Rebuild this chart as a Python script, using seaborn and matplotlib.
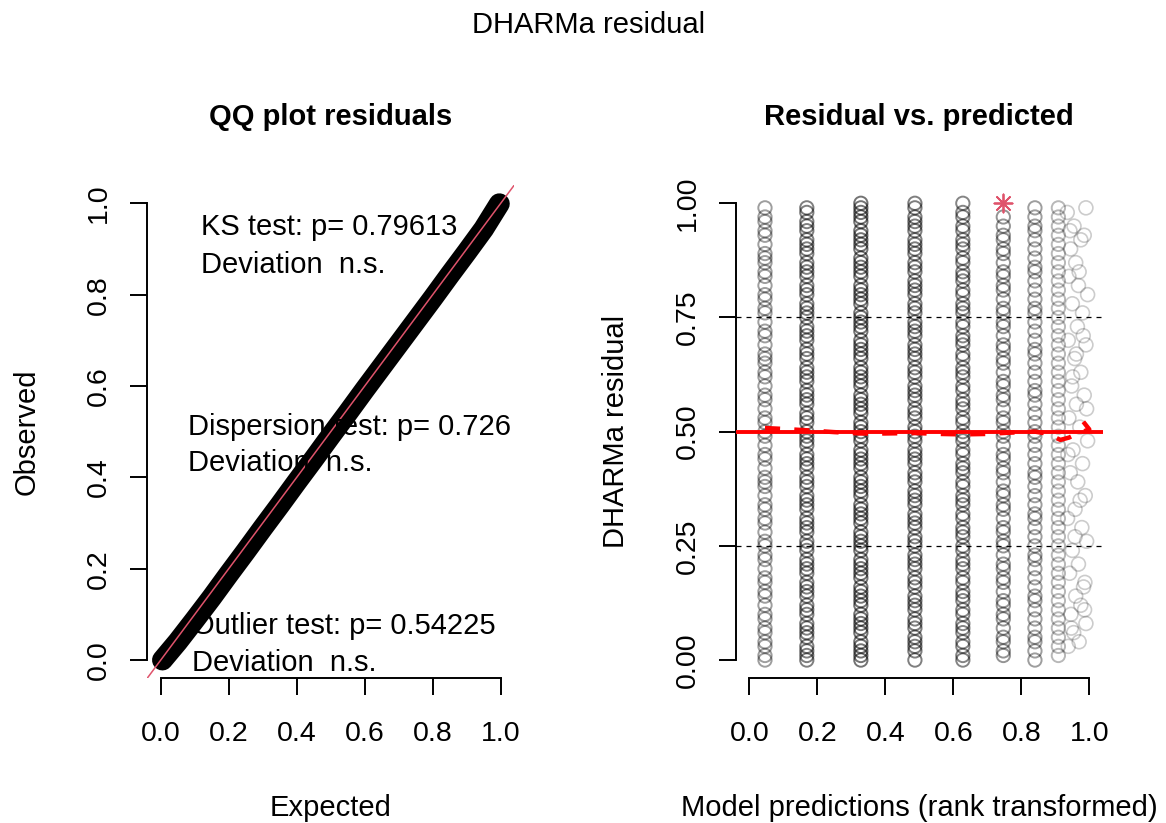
import matplotlib
matplotlib.use("Agg")
import matplotlib.pyplot as plt
import pandas as pd
import seaborn as sns

# ---------------- data ----------------
# QQ plot (left): expected vs observed quantiles of the scaled residuals
qq_expected = [0.005, 0.05, 0.10, 0.15, 0.20, 0.25, 0.30, 0.35, 0.40, 0.45, 0.50,
               0.55, 0.60, 0.65, 0.70, 0.75, 0.80, 0.85, 0.90, 0.95, 0.996]
qq_observed = [0.000, 0.040, 0.088, 0.137, 0.188, 0.238, 0.289, 0.339, 0.390, 0.440, 0.491,
               0.541, 0.592, 0.642, 0.692, 0.742, 0.792, 0.843, 0.893, 0.944, 0.999]

ks_text = ["KS test: p= 0.79613", "Deviation  n.s."]
disp_text = ["Dispersion test: p= 0.726", "Deviation  n.s."]
outl_text = ["Outlier test: p= 0.54225", "Deviation  n.s."]

# Residual vs predicted (right): rank-transformed prediction groups
col_x = [0.046, 0.169, 0.328, 0.487, 0.628, 0.747, 0.840, 0.909]
resid_c1 = [0.00, 0.01, 0.03, 0.04, 0.06, 0.07, 0.09, 0.10, 0.12, 0.14, 0.15, 0.17, 0.18, 0.20,
            0.22, 0.23, 0.25, 0.26, 0.28, 0.30, 0.31, 0.33, 0.34, 0.36, 0.38, 0.39, 0.40, 0.42,
            0.44, 0.45, 0.47, 0.49, 0.50, 0.52, 0.53, 0.55, 0.57, 0.58, 0.60, 0.62, 0.63, 0.65,
            0.66, 0.67, 0.69, 0.71, 0.72, 0.74, 0.76, 0.77, 0.79, 0.80, 0.82, 0.84, 0.85, 0.87,
            0.88, 0.89, 0.91, 0.93, 0.94, 0.96, 0.97, 0.99]
resid_c2 = [0.00, 0.01, 0.02, 0.03, 0.05, 0.06, 0.07, 0.08, 0.10, 0.11, 0.12, 0.14, 0.15, 0.16,
            0.17, 0.19, 0.20, 0.21, 0.22, 0.24, 0.25, 0.26, 0.28, 0.29, 0.30, 0.31, 0.33, 0.34,
            0.35, 0.36, 0.38, 0.39, 0.40, 0.42, 0.43, 0.44, 0.45, 0.47, 0.48, 0.49, 0.50, 0.52,
            0.53, 0.54, 0.56, 0.57, 0.58, 0.59, 0.61, 0.62, 0.63, 0.64, 0.66, 0.67, 0.68, 0.70,
            0.71, 0.72, 0.73, 0.75, 0.76, 0.77, 0.78, 0.80, 0.81, 0.82, 0.84, 0.85, 0.86, 0.87,
            0.89, 0.90, 0.91, 0.92, 0.94, 0.95, 0.96, 0.98, 0.99]
resid_c3 = [0.00, 0.01, 0.02, 0.03, 0.04, 0.06, 0.07, 0.08, 0.09, 0.10, 0.12, 0.13, 0.14, 0.15,
            0.16, 0.18, 0.19, 0.20, 0.21, 0.22, 0.24, 0.25, 0.26, 0.27, 0.28, 0.30, 0.31, 0.32,
            0.33, 0.34, 0.36, 0.37, 0.38, 0.39, 0.40, 0.42, 0.43, 0.44, 0.45, 0.46, 0.48, 0.49,
            0.50, 0.51, 0.52, 0.54, 0.55, 0.56, 0.57, 0.58, 0.60, 0.61, 0.62, 0.63, 0.64, 0.66,
            0.67, 0.68, 0.69, 0.70, 0.72, 0.73, 0.74, 0.75, 0.76, 0.78, 0.79, 0.80, 0.81, 0.82,
            0.84, 0.85, 0.86, 0.87, 0.88, 0.90, 0.91, 0.92, 0.93, 0.94, 0.96, 0.97, 0.98, 0.99,
            1.00]
resid_c4 = [0.00, 0.02, 0.03, 0.04, 0.05, 0.07, 0.08, 0.09, 0.11, 0.12, 0.13, 0.14, 0.16, 0.17,
            0.18, 0.20, 0.21, 0.22, 0.23, 0.25, 0.26, 0.27, 0.29, 0.30, 0.31, 0.32, 0.34, 0.35,
            0.36, 0.37, 0.39, 0.40, 0.41, 0.43, 0.44, 0.45, 0.46, 0.48, 0.49, 0.50, 0.51, 0.53,
            0.54, 0.55, 0.57, 0.58, 0.59, 0.60, 0.62, 0.63, 0.64, 0.66, 0.67, 0.68, 0.69, 0.71,
            0.72, 0.73, 0.74, 0.76, 0.77, 0.78, 0.80, 0.81, 0.82, 0.83, 0.85, 0.86, 0.87, 0.89,
            0.90, 0.91, 0.92, 0.94, 0.95, 0.96, 0.97, 0.99, 1.00]
resid_c5 = [0.00, 0.01, 0.03, 0.04, 0.06, 0.07, 0.08, 0.10, 0.11, 0.13, 0.14, 0.15, 0.17, 0.18,
            0.20, 0.21, 0.22, 0.24, 0.25, 0.27, 0.28, 0.29, 0.31, 0.32, 0.34, 0.35, 0.36, 0.38,
            0.39, 0.41, 0.42, 0.43, 0.45, 0.46, 0.48, 0.49, 0.50, 0.52, 0.53, 0.55, 0.56, 0.57,
            0.59, 0.60, 0.62, 0.63, 0.64, 0.66, 0.67, 0.69, 0.70, 0.71, 0.73, 0.74, 0.76, 0.77,
            0.78, 0.80, 0.81, 0.83, 0.84, 0.85, 0.87, 0.88, 0.90, 0.91, 0.92, 0.94, 0.95, 0.97,
            0.98, 1.00]
resid_c6 = [0.01, 0.02, 0.04, 0.05, 0.07, 0.09, 0.10, 0.12, 0.13, 0.15, 0.17, 0.18, 0.20, 0.21,
            0.23, 0.25, 0.26, 0.28, 0.29, 0.31, 0.33, 0.34, 0.36, 0.37, 0.39, 0.41, 0.42, 0.44,
            0.45, 0.47, 0.49, 0.50, 0.52, 0.53, 0.55, 0.57, 0.58, 0.60, 0.61, 0.63, 0.65, 0.66,
            0.68, 0.69, 0.71, 0.73, 0.74, 0.76, 0.77, 0.79, 0.81, 0.82, 0.84, 0.85, 0.87, 0.89,
            0.90, 0.92, 0.93, 0.95, 0.97]
resid_c7 = [0.00, 0.02, 0.04, 0.05, 0.07, 0.09, 0.11, 0.13, 0.14, 0.16, 0.18, 0.20, 0.22, 0.23,
            0.25, 0.27, 0.29, 0.31, 0.32, 0.34, 0.36, 0.38, 0.40, 0.41, 0.43, 0.45, 0.47, 0.49,
            0.50, 0.52, 0.54, 0.56, 0.58, 0.59, 0.61, 0.63, 0.65, 0.67, 0.68, 0.70, 0.72, 0.74,
            0.76, 0.77, 0.79, 0.81, 0.83, 0.85, 0.86, 0.88, 0.90, 0.92, 0.94, 0.95, 0.97, 0.99]
resid_c8 = [0.01, 0.03, 0.05, 0.07, 0.09, 0.11, 0.13, 0.15, 0.17, 0.19, 0.21, 0.23, 0.25, 0.27,
            0.29, 0.31, 0.33, 0.35, 0.37, 0.39, 0.41, 0.43, 0.45, 0.47, 0.49, 0.51, 0.53, 0.55,
            0.57, 0.59, 0.61, 0.63, 0.65, 0.67, 0.69, 0.71, 0.73, 0.75, 0.77, 0.79, 0.81, 0.83,
            0.85, 0.87, 0.89, 0.91, 0.93, 0.95, 0.97, 0.99]
col_resid = [resid_c1, resid_c2, resid_c3, resid_c4, resid_c5, resid_c6, resid_c7, resid_c8]
# darkness of each column follows how many observations share that prediction
col_alpha = [0.38, 0.50, 0.55, 0.50, 0.48, 0.42, 0.38, 0.28]

# highest predictions (unique ranks)
tail_x = [0.935, 0.99, 0.955, 0.975, 0.945, 0.985, 0.96, 0.94, 0.97, 0.995, 0.95, 0.98, 0.965,
          0.938, 0.99, 0.957, 0.975, 0.948, 0.985, 0.962, 0.94, 0.972, 0.995, 0.952, 0.98,
          0.944, 0.966, 0.988, 0.958, 0.936, 0.978, 0.992, 0.95, 0.968, 0.942, 0.983, 0.96,
          0.975, 0.946, 0.99, 0.954, 0.97, 0.938, 0.986, 0.962,
          0.943, 0.968, 0.982, 0.951, 0.992, 0.937, 0.973, 0.958, 0.987, 0.947]
tail_y = [0.98, 0.99, 0.95, 0.92, 0.90, 0.93, 0.87, 0.84, 0.85, 0.80, 0.78, 0.76, 0.73, 0.70,
          0.69, 0.66, 0.63, 0.60, 0.58, 0.56, 0.53, 0.51, 0.48, 0.46, 0.43, 0.41, 0.39, 0.36,
          0.33, 0.31, 0.29, 0.26, 0.24, 0.21, 0.19, 0.16, 0.14, 0.12, 0.10, 0.08, 0.06, 0.04,
          0.03, 0.11, 0.67,
          0.94, 0.82, 0.71, 0.62, 0.55, 0.45, 0.35, 0.27, 0.17, 0.07]

# outlier
outlier_x = [0.747]
outlier_y = [1.0]

# fitted median quantile curve (red dashed)
quant_x = [0.046, 0.10, 0.169, 0.25, 0.328, 0.40, 0.487, 0.56, 0.628, 0.70, 0.747, 0.80,
           0.840, 0.875, 0.915, 0.94, 0.965, 1.0, 0.982]
quant_y = [0.508, 0.506, 0.503, 0.499, 0.496, 0.496, 0.497, 0.495, 0.494, 0.495, 0.497, 0.499,
           0.500, 0.496, 0.482, 0.487, 0.496, 0.505, 0.522]
quantile_levels = [0.25, 0.5, 0.75]

left_ticks = [0.0, 0.2, 0.4, 0.6, 0.8, 1.0]
left_ticklabels = ["0.0", "0.2", "0.4", "0.6", "0.8", "1.0"]
right_yticks = [0.0, 0.25, 0.5, 0.75, 1.0]
right_yticklabels = ["0.00", "0.25", "0.50", "0.75", "1.00"]

# ---------------- style ----------------
sns.set_style("ticks", {"text.color": "black", "axes.labelcolor": "black",
                        "xtick.color": "black", "ytick.color": "black",
                        "axes.edgecolor": "black"})
plt.rcParams['font.family'] = ['Liberation Sans', 'DejaVu Sans']
FS = 21
TICK_FS = 20.5

fig = plt.figure(figsize=(11.66, 8.23), dpi=100)
ax1 = fig.add_axes([0.1262, 0.1758, 0.3149, 0.5994])
ax2 = fig.add_axes([0.6310, 0.1758, 0.3149, 0.5994])


def style_axis(ax, xticks, xlabels, yticks, ylabels):
    ax.set_xlim(-0.04, 1.04)
    ax.set_ylim(-0.04, 1.04)
    for s in ["top", "right"]:
        ax.spines[s].set_visible(False)
    for s in ["left", "bottom"]:
        ax.spines[s].set_linewidth(1.4)
        ax.spines[s].set_color("black")
    ax.spines["left"].set_bounds(0, 1)
    ax.spines["bottom"].set_bounds(0, 1)
    ax.set_xticks(xticks)
    ax.set_xticklabels(xlabels)
    ax.set_yticks(yticks)
    ax.set_yticklabels(ylabels)
    ax.tick_params(axis="both", direction="out", length=12.2, width=1.4, color="black",
                   labelsize=TICK_FS, labelcolor="black", bottom=True, left=True)
    ax.tick_params(axis="x", pad=18.5)
    ax.tick_params(axis="y", pad=13, labelrotation=90)
    for lab in ax.get_yticklabels():
        lab.set_va("center")
    ax.set_facecolor("white")
    ax.grid(False)


# ---------------- left: QQ plot ----------------
qq_df = pd.DataFrame({"Expected": qq_expected, "Observed": qq_observed})
sns.lineplot(data=qq_df, x="Expected", y="Observed", ax=ax1, color="black", linewidth=15,
             sort=False, estimator=None, solid_capstyle="round", zorder=2)
ax1.axline((0, 0), (1, 1), color="#DF536B", linewidth=1.1, zorder=3)

style_axis(ax1, left_ticks, left_ticklabels, left_ticks, left_ticklabels)

x_px = lambda px: (px - 160.7) / 340.0
y_px = lambda px: (660.0 - px) / 456.7
for lines, xl, ybases in [(ks_text, 201.3, [235.5, 273.5]),
                          (disp_text, 188.4, [434.5, 471.4]),
                          (outl_text, 192.1, [634.0, 671.0])]:
    for t, yb in zip(lines, ybases):
        ax1.text(x_px(xl), y_px(yb), t, fontsize=FS, color="black", ha="left",
                 va="baseline", zorder=4)

ax1.set_title("QQ plot residuals", fontsize=FS, fontweight="bold", pad=43.5, color="black")
ax1.set_xlabel("Expected", fontsize=FS)
ax1.set_ylabel("Observed", fontsize=FS)

# ---------------- right: residual vs predicted ----------------
for xv, ys, a in zip(col_x, col_resid, col_alpha):
    col_df = pd.DataFrame({"pred": [xv] * len(ys), "resid": ys})
    sns.scatterplot(data=col_df, x="pred", y="resid", ax=ax2, marker="o", s=92,
                    facecolor="none", edgecolor=(0, 0, 0, a), linewidth=1.4, zorder=2)

tail_df = pd.DataFrame({"pred": tail_x[:len(tail_y)], "resid": tail_y[:len(tail_x)]})
sns.scatterplot(data=tail_df, x="pred", y="resid", ax=ax2, marker="o", s=100,
                facecolor="none", edgecolor=(0, 0, 0, 0.2), linewidth=1.2, zorder=2)

for q in quantile_levels:
    if q == 0.5:
        ax2.axhline(q, color="red", linewidth=2.8, zorder=3)
    else:
        ax2.axhline(q, color="black", linewidth=0.9, linestyle=(0, (4, 4)), zorder=3)

sns.lineplot(x=quant_x, y=quant_y, ax=ax2, color="red", linewidth=3.2, sort=False,
             estimator=None, linestyle=(0, (3.4, 3.2)), zorder=4)

sns.scatterplot(x=outlier_x, y=outlier_y, ax=ax2, marker=(8, 2, 0), s=170,
                color="#DF536B", edgecolor="#DF536B", linewidth=1.3, zorder=5)

style_axis(ax2, left_ticks, left_ticklabels, right_yticks, right_yticklabels)
ax2.set_title("Residual vs. predicted", fontsize=FS, fontweight="bold", pad=43.5, color="black")
ax2.set_xlabel("Model predictions (rank transformed)", fontsize=FS)
ax2.set_ylabel("DHARMa residual", fontsize=FS)

for ax in (ax1, ax2):
    ax.yaxis.set_label_coords(-0.289, 0.5)
    ax.yaxis.label.set_va("bottom")
    ax.xaxis.set_label_coords(0.5, -0.2345)
    ax.xaxis.label.set_va("top")

fig.text(0.5045, 1 - 33.3 / 823, "DHARMa residual", fontsize=FS, ha="center",
         va="baseline", color="black")

fig.savefig("out.png", dpi=100, facecolor="white")
